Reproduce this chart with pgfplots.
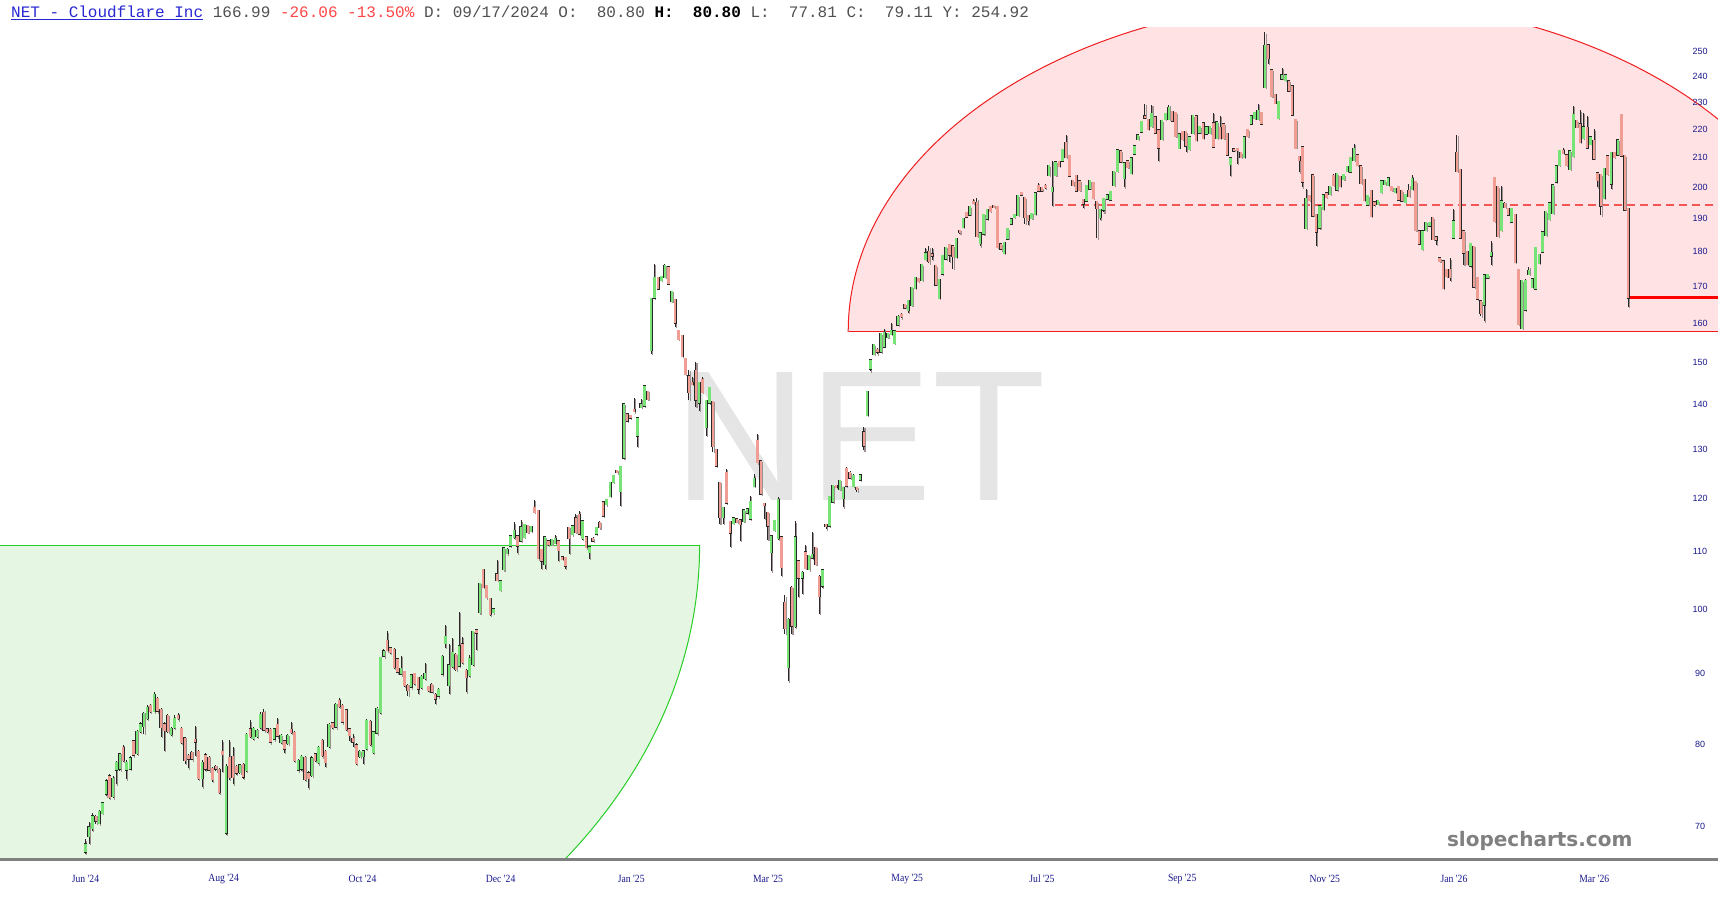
\documentclass[border=0pt]{standalone}
\usepackage{fontspec}
\setmainfont{Liberation Sans}
\usepackage{pgfplots}
\pgfplotsset{compat=1.18}
\usepackage{pgfplotstable}
\newfontfamily\monofont{Liberation Mono}
\newfontfamily\serifc[FakeStretch=0.88]{Liberation Serif}
\newfontfamily\brand{DejaVu Sans}
\definecolor{upc}{RGB}{120,228,120}
\definecolor{dnc}{RGB}{240,158,148}
\definecolor{gfill}{RGB}{229,247,227}
\definecolor{gline}{RGB}{40,205,40}
\definecolor{rfill}{RGB}{255,226,228}
\definecolor{rline}{RGB}{240,30,30}
\definecolor{navy}{RGB}{25,25,140}
\definecolor{hblue}{RGB}{40,40,210}
\definecolor{hred}{RGB}{255,70,70}
\definecolor{hgray}{RGB}{80,80,80}
\definecolor{wm}{RGB}{229,229,229}
\definecolor{brandc}{RGB}{128,128,128}
\definecolor{shadow}{RGB}{160,145,145}
\definecolor{outl}{RGB}{40,40,40}

\pgfplotstableread{
o h l c
67.2 68.5 66.9 67.9
68.9 70.5 68.0 69.8
69.8 71.5 69.5 71.1
71.0 71.3 70.3 70.7
70.4 71.9 70.2 71.6
71.6 72.9 71.4 72.6
73.9 75.6 73.5 75.3
75.9 76.3 73.2 73.5
73.6 76.0 73.3 75.6
76.9 77.9 75.0 77.6
77.0 79.0 76.7 78.7
79.6 80.0 77.8 78.1
76.9 78.0 75.6 77.6
77.0 78.5 76.8 78.2
80.4 80.7 78.5 78.8
79.0 82.0 78.7 81.7
81.9 83.0 81.6 82.7
82.6 84.5 81.5 84.1
83.7 85.4 83.4 85.0
85.2 85.6 84.3 84.6
84.6 87.2 84.4 86.8
86.2 86.6 84.4 84.7
84.7 85.0 81.1 82.4
82.7 83.1 79.2 82.0
83.8 84.1 81.6 81.9
81.5 82.4 81.2 82.1
82.4 84.0 82.1 83.4
83.8 84.3 83.3 83.7
82.1 82.4 80.1 80.4
80.8 81.1 77.6 78.1
78.5 78.8 77.0 78.3
78.9 79.2 78.0 78.3
80.6 82.5 78.6 80.5
79.0 79.4 75.5 75.8
75.8 78.0 74.6 77.6
78.6 79.0 76.7 77.0
78.3 78.6 76.6 76.9
76.9 77.2 75.3 75.7
77.1 77.4 76.6 77.0
76.7 77.0 73.8 74.1
79.0 80.6 76.5 78.9
69.3 77.5 69.0 77.1
78.3 80.6 75.5 75.9
78.4 79.8 75.0 75.9
77.1 77.4 76.2 76.5
76.6 77.6 76.3 77.3
77.4 77.7 75.7 76.0
76.8 81.6 76.5 81.3
82.0 83.3 80.9 81.2
81.0 82.4 80.7 82.1
81.2 82.1 80.9 81.8
82.4 84.4 82.1 84.0
84.3 84.8 81.8 82.1
82.0 82.3 81.6 81.9
81.9 82.2 80.2 80.5
80.9 82.3 80.6 82.0
82.6 83.6 81.0 81.3
80.4 81.4 80.1 81.1
80.4 80.7 79.0 79.6
80.3 81.4 80.0 81.1
81.9 83.1 81.5 81.8
81.5 81.8 77.8 78.1
76.9 78.2 76.6 77.9
77.0 78.7 76.7 78.4
78.3 78.6 75.4 75.7
76.3 76.6 74.5 75.8
76.2 78.5 75.9 78.2
78.7 79.0 77.8 78.1
77.8 79.9 77.5 79.6
80.5 80.8 78.4 78.7
79.0 79.3 77.2 77.8
79.9 82.9 79.6 82.6
82.8 83.1 82.1 82.4
82.5 85.7 82.2 85.4
85.9 86.4 85.0 85.3
85.2 85.5 82.9 83.2
84.6 84.9 81.9 82.2
82.0 82.3 80.5 81.4
80.7 81.4 79.8 80.5
79.9 80.2 77.4 77.7
78.6 79.3 78.3 79.0
78.6 79.4 77.6 79.1
79.7 83.5 79.4 83.2
83.0 83.3 79.9 80.2
79.1 81.9 78.8 81.6
81.7 85.1 81.4 84.8
84.5 92.5 84.2 92.2
92.7 93.6 92.4 93.2
94.8 96.4 93.3 93.6
93.7 94.0 92.9 93.2
93.5 93.8 90.7 91.0
92.0 92.3 90.0 90.3
90.0 92.6 89.7 90.6
90.1 90.4 88.0 88.3
88.1 88.4 86.7 87.6
88.1 89.9 87.8 89.6
89.8 90.1 88.3 88.6
89.2 89.5 87.0 87.8
88.0 89.7 87.7 89.4
89.3 91.5 89.0 89.8
87.9 88.2 87.3 87.6
88.2 88.5 87.1 87.4
86.8 87.1 85.6 86.4
86.8 87.8 86.5 87.5
90.0 92.7 89.7 92.4
94.6 97.5 93.8 95.5
88.3 94.5 87.0 91.1
91.1 95.4 90.8 93.0
92.7 93.0 90.4 90.7
91.2 99.5 90.9 94.0
94.3 95.6 91.4 91.7
90.3 90.6 87.2 89.5
89.8 92.7 89.5 92.1
91.4 96.5 91.1 96.2
96.5 96.7 93.5 96.3
99.6 104.4 99.3 104.1
106.6 106.9 103.5 103.8
103.8 104.1 101.8 102.1
101.6 101.9 98.9 99.2
99.6 100.2 99.3 99.9
105.8 108.4 104.7 105.0
103.3 104.9 103.0 104.6
106.9 110.7 106.6 110.4
109.7 110.5 109.4 110.2
111.1 112.9 110.8 112.6
112.6 115.3 112.3 113.6
112.6 112.9 109.6 111.1
112.0 115.7 111.7 114.3
112.7 115.1 112.4 114.8
114.6 114.9 113.3 113.6
113.8 114.7 113.5 114.4
118.0 119.6 117.1 117.4
117.4 117.7 108.5 108.8
110.1 110.4 106.9 108.4
107.8 112.7 106.9 112.4
111.7 112.0 111.0 111.3
111.4 112.3 111.1 111.9
111.6 113.0 111.3 112.2
111.7 112.0 108.2 110.3
108.8 109.1 108.4 108.7
108.7 109.0 106.9 107.5
114.2 114.5 109.5 112.4
113.2 114.8 112.9 114.5
116.0 116.9 113.3 113.6
116.6 117.5 113.0 113.3
112.4 115.7 112.1 115.4
112.4 112.7 110.5 110.8
109.9 110.9 108.6 110.6
112.2 112.5 111.7 112.0
113.3 114.5 113.0 114.2
115.2 115.5 114.2 114.5
119.1 119.4 116.4 116.7
118.9 119.9 118.6 119.6
120.5 123.3 120.2 123.0
123.3 124.7 123.0 124.4
125.4 125.7 125.0 125.3
121.5 126.6 118.5 126.3
128.4 140.2 128.1 139.9
137.6 137.9 136.1 136.4
137.2 137.5 136.8 137.1
138.6 141.5 138.2 138.5
133.1 137.0 130.5 136.7
139.5 141.3 139.2 139.9
139.8 144.4 139.5 144.1
142.8 143.1 141.1 141.4
153.2 166.6 152.2 166.3
167.0 176.3 166.7 172.2
172.2 172.5 169.2 169.5
171.8 172.8 171.5 172.5
172.8 176.2 172.5 175.6
175.2 175.6 170.6 170.9
166.1 168.7 165.8 168.4
166.1 166.4 159.0 160.3
157.9 158.2 155.6 155.9
156.5 156.8 151.3 151.6
150.8 151.1 146.9 147.2
146.5 148.2 141.0 143.0
144.9 146.5 144.5 144.8
147.8 150.2 139.5 141.2
140.5 145.3 138.5 145.0
145.6 146.4 142.7 143.0
135.0 141.0 133.0 140.7
140.5 144.0 140.2 143.7
140.5 140.8 129.5 130.8
129.8 130.1 126.4 126.7
122.9 123.2 115.0 116.4
116.4 118.3 115.1 118.0
125.0 125.9 118.9 119.2
115.3 115.6 110.8 113.5
115.3 116.3 115.0 116.0
115.8 116.1 115.2 115.5
115.6 115.9 111.9 115.1
115.7 117.8 115.4 117.5
117.3 118.0 117.0 117.7
116.1 120.4 115.8 119.2
122.5 124.8 122.2 123.8
131.8 133.4 127.1 127.4
127.4 127.7 120.7 121.0
118.8 119.1 116.0 118.7
117.1 117.4 112.0 114.8
109.9 112.9 106.4 112.6
114.0 115.8 113.7 115.5
112.4 120.3 112.1 119.6
112.4 112.7 105.6 107.2
100.9 102.3 96.0 97.0
91.0 98.5 88.8 98.2
103.5 103.8 96.0 97.4
97.3 115.5 97.0 112.4
108.1 108.4 102.0 105.4
105.4 106.4 102.5 106.1
109.7 111.1 106.8 107.1
106.9 109.3 106.6 109.0
108.9 113.5 108.6 109.3
110.5 110.8 107.5 107.8
105.4 105.7 99.2 102.2
104.0 106.8 103.5 106.5
114.8 115.1 114.0 114.7
114.8 120.4 114.5 120.1
119.4 122.6 119.1 122.3
122.4 122.7 122.0 122.3
121.9 123.6 121.6 123.3
120.1 122.3 118.2 122.0
125.8 126.4 122.3 122.6
125.0 125.4 123.9 124.2
122.5 124.8 122.2 124.4
122.0 122.3 121.3 121.9
123.8 124.8 123.5 124.5
133.6 135.0 129.8 130.9
137.7 143.1 137.4 142.8
148.6 150.7 147.8 150.4
152.2 154.5 151.9 154.2
153.0 153.5 152.0 152.8
152.8 157.3 152.5 157.0
154.1 158.6 153.8 157.3
156.5 157.4 156.2 157.1
157.2 160.0 156.9 157.9
155.0 158.0 154.7 157.7
159.7 162.2 159.4 161.5
162.0 162.6 161.3 161.9
164.8 165.1 164.0 164.3
163.5 166.2 162.8 165.9
165.0 169.8 164.7 169.5
169.7 172.5 169.4 172.2
172.0 172.3 171.3 171.6
171.9 176.2 171.6 175.9
177.9 181.0 177.6 179.3
179.8 181.5 176.5 177.4
179.0 181.0 177.5 178.9
175.6 175.9 170.3 170.6
166.8 171.9 166.5 171.6
173.7 178.9 173.4 178.6
178.0 181.3 177.7 181.0
181.9 182.2 177.0 179.2
181.4 181.7 175.0 178.8
178.5 183.9 178.2 183.6
186.0 186.6 185.3 185.9
187.5 190.1 187.2 189.8
191.6 191.9 190.5 190.8
191.4 193.9 191.1 193.6
195.2 196.2 194.8 195.1
194.9 196.4 184.4 184.7
182.7 185.6 181.5 185.3
185.5 191.4 185.2 191.1
190.1 192.9 189.8 192.6
193.5 193.8 192.3 192.6
194.0 194.3 193.5 193.8
193.6 193.9 181.1 181.4
182.0 182.3 180.3 181.0
179.6 182.7 179.3 182.4
184.0 187.0 183.7 186.7
188.6 189.9 188.3 189.6
190.6 191.3 190.3 191.0
191.2 197.4 190.9 197.1
198.0 198.3 197.5 197.8
196.5 196.8 188.5 190.6
190.6 190.9 188.0 189.6
190.3 191.7 190.0 191.4
191.6 198.2 191.3 197.9
200.4 201.6 198.8 199.1
199.6 199.9 198.8 199.1
200.3 201.0 199.6 200.2
204.3 207.4 204.0 207.1
199.0 209.0 194.0 199.8
204.3 208.5 204.0 208.2
208.5 208.8 206.9 207.2
209.1 212.9 208.8 212.6
215.0 218.0 210.1 210.4
210.4 210.7 203.8 204.1
201.9 202.2 200.7 201.0
203.7 204.0 198.8 199.1
201.8 202.1 199.0 199.3
195.9 196.2 193.4 194.9
195.9 200.6 195.6 200.3
199.8 202.3 199.5 202.0
201.3 201.6 196.4 196.7
195.1 195.4 183.9 193.4
190.5 192.9 189.5 192.6
193.0 196.5 192.0 196.2
196.5 197.6 196.2 197.3
196.2 198.8 195.9 198.5
201.0 205.4 200.7 205.1
205.6 212.7 205.3 212.4
212.0 212.3 208.5 208.8
203.2 208.2 200.0 207.9
208.6 208.9 206.6 206.9
205.0 209.9 204.7 209.6
211.6 214.1 211.3 213.8
216.6 218.0 216.3 217.7
219.4 222.8 219.1 222.5
224.6 229.4 224.2 224.5
223.4 223.7 220.0 220.3
221.3 229.0 221.0 225.4
224.2 224.5 218.7 219.0
219.5 219.8 209.0 213.7
216.6 223.2 216.3 222.9
223.8 225.7 223.5 225.4
223.8 229.0 223.5 227.7
226.2 226.5 223.1 223.4
225.8 226.1 217.4 217.7
213.6 218.3 213.3 218.0
219.0 219.3 216.3 216.6
218.9 219.2 212.0 214.4
213.2 217.2 212.9 216.9
218.9 225.0 218.6 224.7
224.6 224.9 216.1 216.4
219.0 221.1 218.7 220.8
222.0 222.3 216.7 217.0
218.6 220.8 218.3 220.5
218.8 221.0 218.5 220.7
222.0 226.0 213.7 214.0
217.0 222.7 216.7 222.4
220.4 225.0 216.6 216.9
221.6 221.9 216.7 217.0
218.2 218.5 210.9 211.2
208.0 209.9 203.7 209.6
212.7 213.0 212.3 212.6
213.0 213.3 207.8 212.9
211.5 211.8 210.1 210.4
210.4 217.2 210.1 216.9
219.7 220.0 217.4 217.7
222.3 224.9 222.0 224.6
224.2 226.1 223.9 225.8
224.0 229.5 223.7 226.6
225.8 226.1 222.0 222.3
236.0 258.0 235.7 252.1
252.4 252.7 245.0 247.4
242.2 242.5 232.3 232.6
232.6 232.9 229.7 230.0
224.2 230.3 223.9 230.0
239.3 243.5 239.0 240.2
238.7 240.5 238.4 240.2
237.9 238.2 234.3 234.6
235.9 236.2 225.3 225.6
223.4 223.7 213.3 213.6
210.0 210.3 205.0 209.2
213.4 213.7 200.0 202.0
187.2 199.5 186.9 196.1
197.0 197.3 195.7 196.0
203.8 204.1 190.8 191.1
191.0 191.3 181.6 186.1
187.3 194.0 187.0 193.7
193.2 197.5 192.9 197.2
197.9 198.2 196.7 197.0
197.9 200.4 197.6 200.1
203.6 204.5 200.6 200.9
199.4 204.7 199.1 204.4
203.2 203.5 200.3 200.6
202.8 204.3 202.5 204.0
205.6 207.1 205.3 206.8
205.4 210.1 205.1 209.8
209.2 214.9 208.9 213.0
210.6 210.9 207.4 207.7
206.9 207.2 201.3 201.6
202.4 202.7 195.7 196.0
194.6 197.3 194.3 197.0
198.7 199.0 190.7 191.0
195.0 195.3 194.0 194.7
194.8 195.7 194.5 195.4
198.6 202.1 198.3 201.8
201.2 202.2 200.9 201.9
200.9 203.1 200.6 202.8
200.0 200.3 198.9 199.2
198.7 199.7 198.4 199.4
200.0 200.3 195.9 196.2
198.7 199.0 195.6 195.9
195.4 197.8 195.1 197.5
198.8 201.0 197.1 197.4
199.7 204.0 199.4 202.7
201.6 201.9 186.2 186.5
185.9 186.2 182.2 182.5
180.9 186.2 180.6 185.9
186.5 188.9 186.2 188.6
188.0 188.8 187.7 188.5
190.0 190.3 183.5 183.8
184.1 184.4 182.0 183.7
177.8 178.1 177.0 177.3
177.0 177.3 169.3 169.6
174.5 174.8 172.7 173.0
174.5 178.0 171.5 172.8
184.3 193.0 184.0 189.0
211.6 218.0 205.3 205.6
205.7 206.0 184.0 184.3
185.9 186.2 176.0 179.8
179.8 180.1 176.2 176.5
176.0 182.4 175.7 182.1
181.3 181.6 169.7 170.0
172.2 172.5 166.4 166.7
165.7 166.0 161.8 162.7
165.1 173.2 160.5 172.9
172.6 173.3 172.3 173.0
178.9 183.0 176.0 179.5
202.9 203.2 189.0 189.3
200.0 200.3 184.5 184.8
186.5 200.5 186.2 195.3
194.5 195.3 193.5 193.8
193.0 193.3 191.1 191.4
189.2 193.2 188.9 192.9
191.0 191.3 176.7 177.0
174.5 174.8 159.6 159.9
158.8 171.6 158.5 171.3
163.7 172.0 163.4 171.3
173.6 175.5 173.3 174.3
169.9 172.1 169.6 171.8
169.5 181.3 169.2 181.0
176.8 179.2 176.5 178.9
180.1 185.9 179.8 185.6
185.1 192.2 184.8 191.9
190.0 195.0 189.7 194.7
191.9 200.8 191.6 200.5
202.0 207.2 201.7 206.9
207.7 212.4 207.4 212.1
212.2 213.5 211.5 211.8
210.6 210.9 207.2 207.5
206.2 212.3 205.9 212.0
210.8 228.7 210.5 225.0
222.9 223.2 220.8 221.1
221.6 227.0 215.2 215.5
217.1 226.0 216.8 220.5
220.3 225.0 213.4 213.7
215.0 217.3 214.7 217.0
215.7 220.0 209.5 209.8
204.5 204.8 200.0 202.6
204.0 204.3 191.0 194.3
196.7 206.4 196.4 206.1
210.3 210.6 204.3 204.6
201.4 211.8 199.5 211.5
211.5 211.8 210.1 210.4
211.2 216.2 210.9 215.9
225.0 225.3 210.6 210.9
210.4 210.7 192.7 193.0
193.0 193.3 164.3 166.99
}\candles

\begin{document}
\begin{tikzpicture}
\path[use as bounding box] (0pt,-41pt) rectangle (1718pt,859pt);
\begin{axis}[
  at={(0pt,0pt)}, anchor=south west, scale only axis,
  width=1718pt, height=831pt,
  ymode=log, ymin=66.33, ymax=259.9,
  xmin=-24.94, xmax=476.2,
  axis line style={draw=none},
  axis on top,
  major tick length=0pt, minor tick length=0pt,
  xtick={0,40.3,80.8,121.1,159.2,199.1,239.7,279.0,319.9,361.5,399.2,440.1},
  xticklabels={Jun '24,Aug '24,Oct '24,Dec '24,Jan '25,Mar '25,May '25,Jul '25,Sep '25,Nov '25,Jan '26,Mar '26},
  xticklabel style={font=\serifc\fontsize{11}{11}\selectfont, text=navy, anchor=center, yshift=-20pt},
  ytick={70,80,90,100,110,120,130,140,150,160,170,180,190,200,210,220,230,240,250},
  yticklabels={70,80,90,100,110,120,130,140,150,160,170,180,190,200,210,220,230,240,250},
  yticklabel pos=right,
  yticklabel style={font=\fontsize{9}{9}\selectfont, text=navy, anchor=center, xshift=-18pt},
  clip=true,
]
% green zone
\begin{scope}
  \clip (axis cs:-24.94,66.33) rectangle (axis cs:476.2,111.1);
  \fill[gfill] (axis cs:-24.94,111.1) ellipse [x radius=699.6pt, y radius=532.5pt];
  \draw[gline, line width=1pt] (axis cs:-24.94,111.1) ellipse [x radius=699.6pt, y radius=532.5pt];
\end{scope}
\draw[gline, line width=1pt] (axis cs:-24.94,111.1) -- (axis cs:179.3,111.1);
% red zone
\begin{scope}
  \clip (axis cs:-24.94,157.9) rectangle (axis cs:476.2,259.9);
  \fill[rfill] (axis cs:366,157.9) ellipse [x radius=492pt, y radius=331pt];
  \draw[rline, line width=1pt] (axis cs:366,157.9) ellipse [x radius=492pt, y radius=331pt];
\end{scope}
\draw[rline, line width=1pt] (axis cs:222.7,157.9) -- (axis cs:476.2,157.9);
\draw[rline!75, line width=1.2pt, dash pattern=on 8pt off 5pt] (axis cs:282.8,194.3) -- (axis cs:476.2,194.3);
% watermark
\node[font=\fontsize{186}{186}\selectfont, text=wm, inner sep=0pt] at (axis cs:225.9,132.9) {NET};
\node[font=\brand\bfseries\fontsize{20}{20}\selectfont, text=brandc, inner sep=0pt] at (axis cs:424.2,68.3) {slopecharts.com};
\draw[red, line width=3pt] (axis cs:450,166.99) -- (axis cs:476.2,166.99);
% wick shadows
\addplot[draw=none, mark=none, forget plot,
  error bars/.cd, y dir=plus, y explicit, error mark=none,
  error bar style={draw=shadow, line width=1.1pt, xshift=1.3pt, yshift=-1.3pt}]
  table[x expr=\coordindex, y=l, y error plus expr=\thisrow{h}-\thisrow{l}] {\candles};
% wicks
\addplot[draw=none, mark=none, forget plot,
  error bars/.cd, y dir=plus, y explicit, error mark=none,
  error bar style={draw=outl, line width=0.75pt}]
  table[x expr=\coordindex, y=l, y error plus expr=\thisrow{h}-\thisrow{l}] {\candles};
% up bodies
\addplot[draw=none, mark=none, forget plot,
  restrict expr to domain={\thisrow{c}-\thisrow{o}}{0:1000},
  error bars/.cd, y dir=plus, y explicit, error mark=none,
  error bar style={draw=outl, line width=3.0pt, line cap=rect}]
  table[x expr=\coordindex, y=o, y error plus expr=\thisrow{c}-\thisrow{o}] {\candles};
\addplot[draw=none, mark=none, forget plot,
  restrict expr to domain={\thisrow{c}-\thisrow{o}}{0:1000},
  error bars/.cd, y dir=plus, y explicit, error mark=none,
  error bar style={draw=upc, line width=2.4pt, line cap=rect}]
  table[x expr=\coordindex, y=o, y error plus expr=\thisrow{c}-\thisrow{o}] {\candles};
% down bodies
\addplot[draw=none, mark=none, forget plot,
  restrict expr to domain={\thisrow{o}-\thisrow{c}}{0.001:1000},
  error bars/.cd, y dir=plus, y explicit, error mark=none,
  error bar style={draw=outl, line width=3.0pt, line cap=rect}]
  table[x expr=\coordindex, y=c, y error plus expr=\thisrow{o}-\thisrow{c}] {\candles};
\addplot[draw=none, mark=none, forget plot,
  restrict expr to domain={\thisrow{o}-\thisrow{c}}{0.001:1000},
  error bars/.cd, y dir=plus, y explicit, error mark=none,
  error bar style={draw=dnc, line width=2.4pt, line cap=rect}]
  table[x expr=\coordindex, y=c, y error plus expr=\thisrow{o}-\thisrow{c}] {\candles};
\end{axis}
\draw[line width=2.2pt, black!50] (0pt,-0.5pt) -- (1718pt,-0.5pt);
\node[anchor=west, inner sep=0pt, font=\monofont\fontsize{16}{16}\selectfont] at (11pt,846pt)
  {\textcolor{hblue}{\underline{NET - Cloudflare Inc}}~\textcolor{hgray}{166.99}~\textcolor{hred}{-26.06~-13.50\%}~\textcolor{hgray}{D:~09/17/2024~O:~~80.80}~\textbf{H:~~80.80}~\textcolor{hgray}{L:~~77.81~C:~~79.11~Y:~254.92}};
\end{tikzpicture}
\end{document}
